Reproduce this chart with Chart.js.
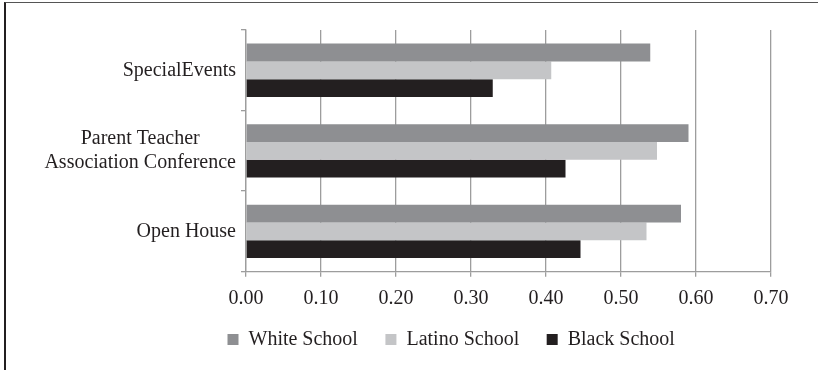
<!DOCTYPE html>
<html>
<head>
<meta charset="utf-8">
<script src="https://cdn.jsdelivr.net/npm/chart.js@4.4.1/dist/chart.umd.min.js"></script>
<style>
  html, body { margin: 0; padding: 0; background: #fff; }
  #wrap { position: relative; width: 818px; height: 370px; }
  #frame { position: absolute; left: 4px; top: 2px; right: 0; bottom: 0;
           border-top: 1px solid #555; border-left: 2px solid #231f20; pointer-events: none; }
</style>
</head>
<body>
<div id="wrap">
  <canvas id="myChart" width="818" height="370"></canvas>
  <div id="frame"></div>
</div>
<script>
/* data */
var categories = ["SpecialEvents", ["Parent Teacher", "Association Conference"], "Open House"];
var seriesNames = ["White School", "Latino School", "Black School"];
var whiteSchool = [0.539, 0.590, 0.580];
var latinoSchool = [0.407, 0.548, 0.534];
var blackSchool = [0.329, 0.426, 0.446];
var xTicks = [0, 0.1, 0.2, 0.3, 0.4, 0.5, 0.6, 0.7];

var textColor = "#231f20";
var gridColor = "#9d9d9d";
var serif = "'Liberation Serif', 'Times New Roman', serif";

// axis labels drawn by hand: category lines centred on each other,
// value labels under the axis (the scale box would clip them otherwise)
var axisLabels = {
  id: 'axisLabels',
  afterDraw: function(chart){
    var ctx = chart.ctx;
    var yScale = chart.scales.y, xScale = chart.scales.x;
    var right = yScale.right - 10;
    ctx.save();
    ctx.font = "20px " + serif;
    ctx.fillStyle = textColor;
    ctx.textAlign = "center";
    ctx.textBaseline = "middle";
    categories.forEach(function(label, i){
      var lines = Array.isArray(label) ? label : [label];
      var maxW = 0;
      lines.forEach(function(l){ maxW = Math.max(maxW, ctx.measureText(l).width); });
      var cx = right - maxW / 2;
      var cy = yScale.getPixelForValue(i);
      var lh = 23.5;
      lines.forEach(function(l, k){
        ctx.fillText(l, cx, cy + (k - (lines.length - 1) / 2) * lh);
      });
    });
    xTicks.forEach(function(v){
      ctx.fillText(v.toFixed(2), xScale.getPixelForValue(v), xScale.top + 27.5);
    });
    ctx.restore();
  }
};

var ctx = document.getElementById('myChart').getContext('2d');
var plot = new Chart(ctx, {
  type: 'bar',
  data: {
    labels: categories,
    datasets: [
      { label: seriesNames[0], data: whiteSchool, backgroundColor: "#8e8f92" },
      { label: seriesNames[1], data: latinoSchool, backgroundColor: "#c4c5c7" },
      { label: seriesNames[2], data: blackSchool, backgroundColor: "#231f20" }
    ]
  },
  options: {
    indexAxis: 'y',
    responsive: false,
    animation: false,
    categoryPercentage: 0.663,
    barPercentage: 1.0,
    layout: { padding: { left: 200, right: 47, top: 30, bottom: 10.5 } },
    scales: {
      x: {
        min: 0, max: 0.7,
        afterBuildTicks: function(scale){
          scale.ticks = xTicks.map(function(v){ return { value: v }; });
        },
        afterFit: function(scale){ scale.height = 30.3; },
        grid: { color: gridColor, lineWidth: 1.3, tickLength: 5 },
        border: { color: gridColor, width: 1.3 },
        ticks: { display: false }
      },
      y: {
        afterFit: function(scale){ scale.width = 46; },
        grid: { drawOnChartArea: false, offset: true, color: gridColor, lineWidth: 1.3, tickLength: 5 },
        border: { color: gridColor, width: 1.3 },
        ticks: { display: false }
      }
    },
    plugins: {
      legend: {
        position: 'bottom',
        align: 'start',
        labels: {
          boxWidth: 11, boxHeight: 11, padding: 27.5,
          color: textColor,
          font: { family: serif, size: 20 }
        }
      },
      tooltip: { enabled: false }
    }
  },
  plugins: [axisLabels]
});
</script>
</body>
</html>
